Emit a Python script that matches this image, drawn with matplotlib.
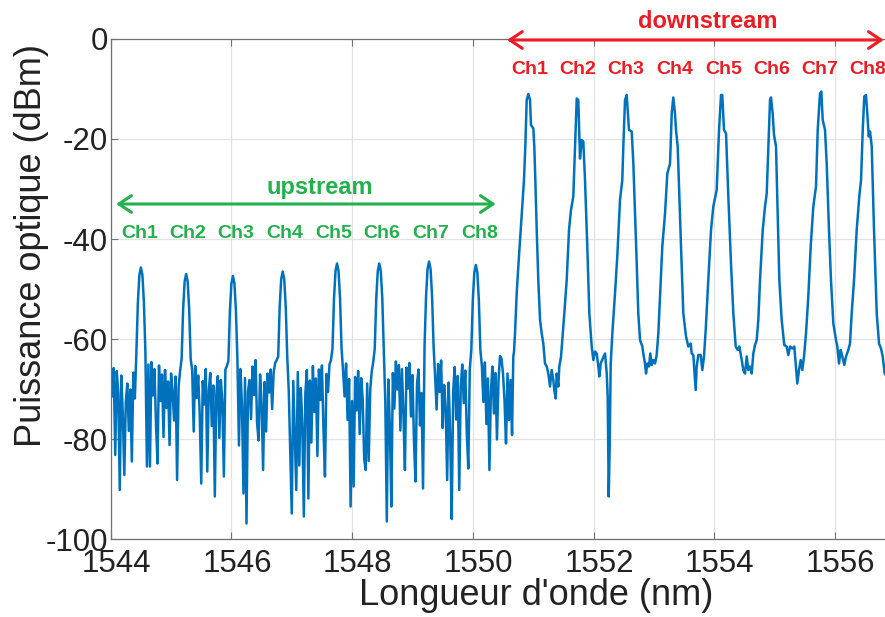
import numpy as np
import matplotlib
matplotlib.use("Agg")
import matplotlib.pyplot as plt
import matplotlib.transforms as mtransforms

plt.rcParams['font.family'] = ['Liberation Sans', 'DejaVu Sans']
plt.rcParams['axes.unicode_minus'] = False

# --- upstream band, OSA samples every 0.025 nm starting at 1544.000 nm ---
up_start = 1544.0
up_step = 0.025
up_dbm = [
    -66.2, -71.5, -65.8, -83.2, -66.4, -70.8, -90.2, -67.3, -74.9, -87.2,
    -72.6, -68.9, -78.4, -70.1, -84.5, -66.7, -71.9, -62.7, -52.7, -47.2,
    -45.7, -47.2, -52.7, -62.7, -85.5, -65.1, -85.5, -64.6, -71.3, -66.0,
    -76.8, -84.9, -65.3, -72.4, -67.1, -79.6, -66.2, -73.8, -68.5, -81.2,
    -66.9, -70.4, -76.3, -67.5, -88.2, -69.6, -66.3, -64.0, -54.0, -48.5,
    -47.0, -48.5, -54.0, -64.0, -66.2, -78.5, -65.4, -71.8, -67.3, -75.2,
    -88.9, -68.4, -73.1, -66.0, -86.5, -70.2, -66.8, -77.4, -69.3, -91.5,
    -71.0, -67.4, -79.8, -68.2, -72.5, -87.5, -66.1, -65.4, -64.4, -54.4,
    -48.9, -47.4, -48.9, -54.4, -64.4, -81.3, -66.0, -73.4, -90.9, -67.8,
    -96.9, -70.5, -68.2, -76.0, -65.5, -71.2, -64.2, -76.8, -80.3, -67.1,
    -72.9, -86.2, -68.6, -78.5, -66.9, -70.7, -66.1, -74.0, -66.6, -64.8,
    -64.2, -63.5, -53.5, -48.0, -46.5, -48.0, -53.5, -63.5, -70.3, -82.6,
    -94.9, -68.4, -79.1, -90.2, -66.6, -85.3, -69.8, -77.2, -95.5, -70.9,
    -66.2, -91.9, -68.3, -80.7, -65.4, -74.6, -67.9, -83.4, -66.1, -72.2,
    -65.3, -77.9, -87.5, -67.0, -70.6, -65.1, -64.2, -61.9, -51.9, -46.4,
    -44.9, -46.4, -51.9, -61.9, -66.3, -71.5, -64.9, -76.2, -68.0, -93.5,
    -72.4, -89.5, -67.6, -74.3, -66.4, -79.0, -67.8, -71.9, -84.0, -86.2,
    -68.9, -84.4, -70.2, -66.5, -64.6, -61.9, -51.9, -46.4, -44.9, -46.4,
    -51.9, -61.9, -72.5, -96.5, -68.1, -77.6, -93.5, -66.8, -73.9, -64.5,
    -70.1, -65.2, -78.3, -66.0, -74.8, -86.2, -65.7, -69.9, -64.8, -75.5,
    -67.2, -80.4, -88.5, -69.0, -66.1, -77.3, -70.8, -89.9, -61.5, -51.5,
    -46.0, -44.5, -46.0, -51.5, -61.5, -67.4, -74.1, -65.0, -70.6, -64.3,
    -77.8, -69.2, -73.5, -88.2, -68.7, -79.4, -96.0, -70.3, -65.6, -76.1,
    -67.4, -90.2, -69.5, -65.1, -72.8, -66.3, -78.7, -85.9, -66.0, -62.2,
    -52.2, -46.7, -45.2, -46.7, -52.2, -62.2, -65.3, -72.6, -64.7, -77.0,
    -67.9, -86.2, -70.4, -65.5, -74.9, -66.8, -80.1, -68.6, -63.4, -63.9,
    -66.9, -72.2, -80.9, -66.9, -76.2, -68.2, -79.2,
]

# --- downstream band, points ---
down_wl = [
    1550.671, 1550.683, 1550.699, 1550.727, 1550.754, 1550.794, 1550.827, 1550.848,
    1550.870, 1550.893, 1550.920, 1550.948, 1550.964, 1551.003, 1551.019, 1551.036,
    1551.059, 1551.085, 1551.114, 1551.142, 1551.168, 1551.196, 1551.225, 1551.251,
    1551.279, 1551.307, 1551.334, 1551.350, 1551.374, 1551.390, 1551.417, 1551.433,
    1551.462, 1551.483, 1551.516, 1551.556, 1551.594, 1551.627, 1551.665, 1551.694,
    1551.722, 1551.748, 1551.776, 1551.805, 1551.831, 1551.859, 1551.897, 1551.931,
    1551.970, 1551.997, 1552.025, 1552.053, 1552.080, 1552.096, 1552.119, 1552.152,
    1552.191, 1552.219, 1552.235, 1552.252, 1552.268, 1552.285, 1552.312, 1552.356,
    1552.394, 1552.439, 1552.477, 1552.494, 1552.522, 1552.550, 1552.588, 1552.633,
    1552.660, 1552.688, 1552.716, 1552.742, 1552.771, 1552.809, 1552.825, 1552.853,
    1552.870, 1552.892, 1552.920, 1552.941, 1552.964, 1552.991, 1553.019, 1553.047,
    1553.074, 1553.102, 1553.140, 1553.185, 1553.223, 1553.268, 1553.296, 1553.322,
    1553.350, 1553.367, 1553.395, 1553.422, 1553.450, 1553.488, 1553.533, 1553.571,
    1553.611, 1553.627, 1553.654, 1553.670, 1553.693, 1553.710, 1553.737, 1553.776,
    1553.803, 1553.831, 1553.859, 1553.902, 1553.947, 1553.985, 1554.041, 1554.080,
    1554.113, 1554.134, 1554.162, 1554.196, 1554.234, 1554.278, 1554.317, 1554.356,
    1554.389, 1554.416, 1554.456, 1554.482, 1554.510, 1554.539, 1554.565, 1554.593,
    1554.621, 1554.648, 1554.676, 1554.704, 1554.731, 1554.759, 1554.804, 1554.842,
    1554.870, 1554.897, 1554.925, 1554.941, 1554.969, 1554.991, 1555.024, 1555.052,
    1555.079, 1555.118, 1555.161, 1555.201, 1555.228, 1555.256, 1555.294, 1555.327,
    1555.350, 1555.377, 1555.405, 1555.433, 1555.460, 1555.488, 1555.521, 1555.559,
    1555.599, 1555.642, 1555.687, 1555.715, 1555.753, 1555.775, 1555.798, 1555.836,
    1555.864, 1555.902, 1555.935, 1555.974, 1556.018, 1556.040, 1556.068, 1556.096,
    1556.123, 1556.156, 1556.184, 1556.222, 1556.250, 1556.278, 1556.317, 1556.361,
    1556.404, 1556.433, 1556.461, 1556.487, 1556.515, 1556.537, 1556.560, 1556.582,
    1556.610, 1556.648, 1556.693, 1556.731, 1556.764, 1556.792, 1556.825, 1556.860,
]
down_dbm = [
    -63.5, -62.5, -58.9, -50.9, -45.5, -38.2, -32.2, -28.2,
    -21.5, -12.2, -11.0, -12.2, -17.2, -17.9, -21.5, -28.2,
    -38.2, -48.2, -56.2, -58.9, -60.9, -64.9, -65.5, -66.9,
    -69.5, -66.2, -68.2, -70.2, -71.9, -66.9, -69.5, -65.5,
    -63.5, -60.2, -54.9, -48.2, -38.2, -34.2, -31.5, -21.5,
    -11.9, -12.2, -23.9, -20.2, -20.5, -28.2, -41.5, -54.9,
    -61.5, -64.2, -62.5, -62.9, -65.5, -67.5, -64.9, -63.9,
    -62.9, -66.9, -71.5, -91.5, -81.5, -64.9, -58.9, -50.9,
    -43.5, -32.2, -28.2, -21.5, -12.2, -11.2, -18.2, -18.5,
    -24.9, -34.9, -44.9, -54.9, -60.2, -61.5, -62.9, -64.9,
    -66.9, -64.9, -65.5, -62.9, -65.2, -64.2, -64.9, -63.2,
    -58.9, -51.5, -41.5, -34.9, -26.9, -24.9, -14.9, -11.7,
    -14.9, -18.2, -21.5, -31.5, -41.5, -54.9, -59.5, -61.5,
    -60.9, -62.9, -63.2, -66.2, -70.2, -65.5, -63.2, -63.2,
    -66.2, -63.5, -58.2, -48.2, -38.2, -33.5, -30.2, -18.2,
    -11.2, -11.2, -18.2, -18.9, -31.5, -44.9, -54.9, -61.5,
    -62.2, -61.5, -64.2, -66.2, -66.9, -63.5, -66.2, -65.5,
    -66.9, -62.9, -61.2, -60.2, -56.2, -48.2, -38.2, -33.5,
    -30.9, -21.5, -12.2, -11.7, -14.9, -19.2, -21.5, -34.9,
    -48.2, -56.2, -61.2, -61.5, -63.2, -61.5, -61.9, -61.5,
    -64.9, -68.9, -66.2, -64.2, -66.2, -63.5, -58.9, -51.5,
    -41.5, -33.5, -29.5, -18.2, -10.9, -10.5, -16.2, -18.2,
    -24.9, -38.2, -48.2, -56.9, -60.2, -61.5, -64.9, -62.2,
    -63.5, -65.2, -63.5, -62.2, -60.9, -54.9, -48.2, -38.2,
    -31.5, -28.2, -18.2, -11.5, -11.2, -14.9, -19.5, -18.5,
    -21.5, -38.2, -54.9, -60.9, -61.9, -63.5, -66.9, -67.5,
]

ch_names = ['Ch1', 'Ch2', 'Ch3', 'Ch4', 'Ch5', 'Ch6', 'Ch7', 'Ch8']

up_wl = up_start + up_step * np.arange(len(up_dbm))
wl = np.concatenate([up_wl, down_wl])
dbm = np.concatenate([up_dbm, down_dbm])

fig = plt.figure(figsize=(8.85, 6.17), dpi=100)
ax = fig.add_axes([0.1251, 0.1264, 0.8749, 0.8104])

ax.plot(wl, dbm, color='#0072BD', lw=1.8)

ax.set_xlim(1544, 1556.83)
ax.set_ylim(-100, 0)
ax.set_xticks(np.arange(1544, 1557, 2))
ax.set_yticks(np.arange(-100, 1, 20))
ax.grid(True, color='#e2e2e2', lw=0.9)
ax.set_axisbelow(True)
ax.tick_params(direction='in', length=5, width=0.8, color='#707070',
               labelsize=22.5, labelcolor='#222222', top=True, right=False)
ax.tick_params(axis='y', pad=2)
ax.tick_params(axis='x', pad=7)
for s in ['left', 'top', 'bottom']:
    ax.spines[s].set_color('#707070')
    ax.spines[s].set_linewidth(0.9)
ax.spines['right'].set_visible(False)

# x tick labels sit a little right of their ticks in the original
shift = mtransforms.ScaledTranslation(4 / 72, 0, fig.dpi_scale_trans)
for lab in ax.get_xticklabels():
    lab.set_transform(lab.get_transform() + shift)

ax.set_xlabel("Longueur d'onde (nm)", fontsize=26, color='#222222')
ax.set_ylabel("Puissance optique (dBm)", fontsize=26, color='#222222')
ax.xaxis.set_label_coords(0.55, -0.077)
ax.yaxis.set_label_coords(-0.08, 0.587)

green = '#22B14C'
red = '#ED1C24'

# upstream annotation
ax.annotate('', xy=(1544.09, -33), xytext=(1550.38, -33),
            arrowprops=dict(arrowstyle='<->,head_length=0.45,head_width=0.3',
                            color=green, lw=2.2, shrinkA=0, shrinkB=0,
                            mutation_scale=20))
ax.text(1547.46, -29.8, 'upstream', color=green, fontsize=17,
        fontweight='bold', ha='center', va='center')
up_lab_wl = [1544.477, 1545.281, 1546.076, 1546.888, 1547.700, 1548.495, 1549.307, 1550.119]
for name, x in zip(ch_names, up_lab_wl):
    ax.text(x, -38.8, name, color=green, fontsize=14, fontweight='bold',
            ha='center', va='center')

# downstream annotation
ax.annotate('', xy=(1550.567, -0.2), xytext=(1556.81, -0.2),
            arrowprops=dict(arrowstyle='<->,head_length=0.45,head_width=0.3',
                            color=red, lw=2.2, shrinkA=0, shrinkB=0,
                            mutation_scale=20),
            annotation_clip=False)
ax.text(1553.896, 3.4, 'downstream', color=red, fontsize=17,
        fontweight='bold', ha='center', va='center', clip_on=False)
down_lab_wl = [1550.948, 1551.743, 1552.539, 1553.342, 1554.163, 1554.958, 1555.753, 1556.548]
for name, x in zip(ch_names, down_lab_wl):
    ax.text(x, -6.2, name, color=red, fontsize=14, fontweight='bold',
            ha='center', va='center', clip_on=False)

fig.savefig('out.png', dpi=100)
